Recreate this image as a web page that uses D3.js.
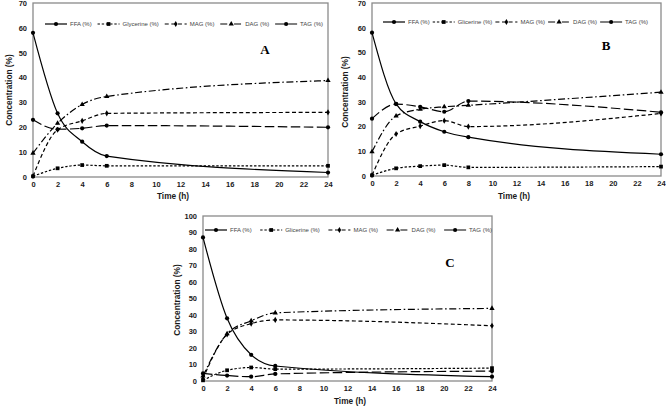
<!DOCTYPE html>
<html>
<head>
<meta charset="utf-8">
<script src="https://cdn.jsdelivr.net/npm/d3@7/dist/d3.min.js"></script>
<style>
body { margin: 0; background: #fff; }
svg { display: block; }
.tick text { font-family: "Liberation Sans", Arial, sans-serif; font-weight: bold; font-size: 7.5px; fill: #1a1a1a; }
.ttl { font-family: "Liberation Sans", Arial, sans-serif; font-weight: bold; font-size: 8.3px; fill: #1a1a1a; }
.leg { font-family: "Liberation Sans", Arial, sans-serif; font-size: 6px; fill: #444; }
.letter { font-family: "Liberation Serif", "Times New Roman", serif; font-weight: bold; font-size: 13px; fill: #000; }
</style>
</head>
<body>
<svg id="chart" width="666" height="410"></svg>
<script>
// tick labels
const xTicks = [0, 2, 4, 6, 8, 10, 12, 14, 16, 18, 20, 22, 24]
const yTicksAB = [0, 10, 20, 30, 40, 50, 60, 70]
const yTicksC = [0, 10, 20, 30, 40, 50, 60, 70, 80, 90, 100]

const legendA = ["FFA (%)", "Glycerine (%)", "MAG (%)", "DAG (%)", "TAG (%)"]
const legendBC = ["FFA (%)", "Glicerine (%)", "MAG (%)", "DAG (%)", "TAG (%)"]

// panel A
const timesA = [0, 2, 4, 6, 24]
const ffaA = [58, 25.6, 14.2, 8.4, 1.8]
const glyA = [0.3, 3.5, 4.8, 4.5, 4.5]
const magA = [0.3, 19, 22.6, 25.6, 26]
const dagA = [9.6, 21.6, 29.2, 32.4, 38.8]
const tagA = [23, 19.2, 19.6, 20.7, 20]

// panel B
const timesB = [0, 2, 4, 6, 8, 24]
const ffaB = [58, 29.2, 22, 17.9, 15.7, 8.8]
const glyB = [0.3, 3.1, 4, 4.4, 3.5, 3.8]
const magB = [0.3, 17, 20.2, 22.4, 20, 25.3]
const dagB = [9.8, 24.3, 27, 28, 28.6, 33.9]
const tagB = [23.2, 29.1, 28, 26, 30.3, 25.8]

// panel C
const timesC = [0, 2, 4, 6, 24]
const ffaC = [87, 38, 15.9, 9.1, 2.6]
const glyC = [0.4, 6.5, 8.2, 7.2, 7.8]
const magC = [1.5, 28.2, 34.8, 37, 33.5]
const dagC = [3, 28.6, 36.5, 41.3, 44]
const tagC = [4.6, 3.3, 2.6, 4.3, 6]

const keys = ["ffa", "gly", "mag", "dag", "tag"]
const dashes = { ffa: null, gly: "2.4,1.8", mag: "4,2.6", dag: "7,2.6,1.6,2.6", tag: "9.5,3.5" }
const symbols = {
    ffa: d3.symbol().type(d3.symbolCircle).size(14),
    gly: d3.symbol().type(d3.symbolSquare).size(14),
    mag: d3.symbol().type(d3.symbolDiamond).size(11),
    dag: d3.symbol().type(d3.symbolTriangle).size(12),
    tag: d3.symbol().type(d3.symbolCircle).size(14)
}

const panels = [
    { id: "A", x0: 33, x1: 328, yTop: 3, yBot: 177, yMax: 70, yTicks: yTicksAB,
      times: timesA, series: { ffa: ffaA, gly: glyA, mag: magA, dag: dagA, tag: tagA },
      legend: legendA, legX0: 45, legX1: 323, legY: 24,
      letterX: 265, letterY: 54, xTitleX: 173, xTitleY: 199, yTitleX: 9, yTitleY: 90 },
    { id: "B", x0: 372, x1: 661, yTop: 3, yBot: 176, yMax: 70, yTicks: yTicksAB,
      times: timesB, series: { ffa: ffaB, gly: glyB, mag: magB, dag: dagB, tag: tagB },
      legend: legendBC, legX0: 383, legX1: 648, legY: 22,
      letterX: 606, letterY: 50, xTitleX: 514, xTitleY: 199, yTitleX: 345, yTitleY: 92 },
    { id: "C", x0: 203, x1: 492, yTop: 216, yBot: 381, yMax: 100, yTicks: yTicksC,
      times: timesC, series: { ffa: ffaC, gly: glyC, mag: magC, dag: dagC, tag: tagC },
      legend: legendBC, legX0: 205, legX1: 492, legY: 230,
      letterX: 450, letterY: 267, xTitleX: 350, xTitleY: 404, yTitleX: 177, yTitleY: 300 }
]

const svg = d3.select("#chart")

function drawPanel(p) {
    const g = svg.append("g")
    const x = d3.scaleLinear().domain([0, 24]).range([p.x0, p.x1])
    const y = d3.scaleLinear().domain([0, p.yMax]).range([p.yBot, p.yTop])

    // plot frame
    g.append("rect")
        .attr("x", p.x0).attr("y", p.yTop)
        .attr("width", p.x1 - p.x0).attr("height", p.yBot - p.yTop)
        .attr("fill", "none")
        .attr("stroke", "#8a8a8a")
        .attr("stroke-width", 1.3)

    g.append("g")
        .attr("transform", `translate(${p.x0},0)`)
        .call(d3.axisLeft(y).tickValues(p.yTicks).tickSize(0).tickPadding(6))
        .call(a => a.select(".domain").remove())

    g.append("g")
        .attr("transform", `translate(0,${p.yBot})`)
        .call(d3.axisBottom(x).tickValues(xTicks).tickSize(0).tickPadding(5))
        .call(a => a.select(".domain").remove())

    // axis titles
    g.append("text").attr("class", "ttl")
        .attr("x", p.xTitleX).attr("y", p.xTitleY)
        .attr("text-anchor", "middle")
        .text("Time (h)")

    g.append("text").attr("class", "ttl")
        .attr("transform", `translate(${p.yTitleX},${p.yTitleY}) rotate(-90)`)
        .attr("text-anchor", "middle")
        .attr("dy", "0.35em")
        .text("Concentration (%)")

    // series, smoothed without overshoot on the long 6-24 h stretch
    const line = d3.line()
        .x(d => x(d[0]))
        .y(d => y(d[1]))
        .curve(d3.curveMonotoneX)

    keys.forEach(k => {
        const pts = p.times.map((t, i) => [t, p.series[k][i]])
        g.append("path")
            .datum(pts)
            .attr("d", line)
            .attr("fill", "none")
            .attr("stroke", "#000")
            .attr("stroke-width", 1.2)
            .attr("stroke-dasharray", dashes[k])

        g.selectAll(".m-" + k)
            .data(pts)
            .enter().append("path")
            .attr("class", "m-" + k)
            .attr("transform", d => `translate(${x(d[0])},${y(d[1])})`)
            .attr("d", symbols[k]())
            .attr("fill", "#000")
    })

    // legend, spread across the top of the plot
    const leg = g.append("g")
    const segW = 22
    const labels = p.legend.map(t => leg.append("text").attr("class", "leg").attr("dy", "0.35em").text(t))
    const widths = labels.map(l => l.node().getComputedTextLength())
    const used = d3.sum(widths) + p.legend.length * (segW + 3)
    const gap = (p.legX1 - p.legX0 - used) / (p.legend.length - 1)
    let cx = p.legX0
    keys.forEach((k, i) => {
        leg.append("line")
            .attr("x1", cx).attr("x2", cx + segW)
            .attr("y1", p.legY).attr("y2", p.legY)
            .attr("stroke", "#000")
            .attr("stroke-width", 1.2)
            .attr("stroke-dasharray", dashes[k])
        leg.append("path")
            .attr("transform", `translate(${cx + segW / 2},${p.legY})`)
            .attr("d", symbols[k]())
            .attr("fill", "#000")
        labels[i].attr("x", cx + segW + 3).attr("y", p.legY)
        cx += segW + 3 + widths[i] + gap
    })

    g.append("text").attr("class", "letter")
        .attr("x", p.letterX).attr("y", p.letterY)
        .attr("text-anchor", "middle")
        .text(p.id)
}

panels.forEach(drawPanel)
</script>
</body>
</html>
